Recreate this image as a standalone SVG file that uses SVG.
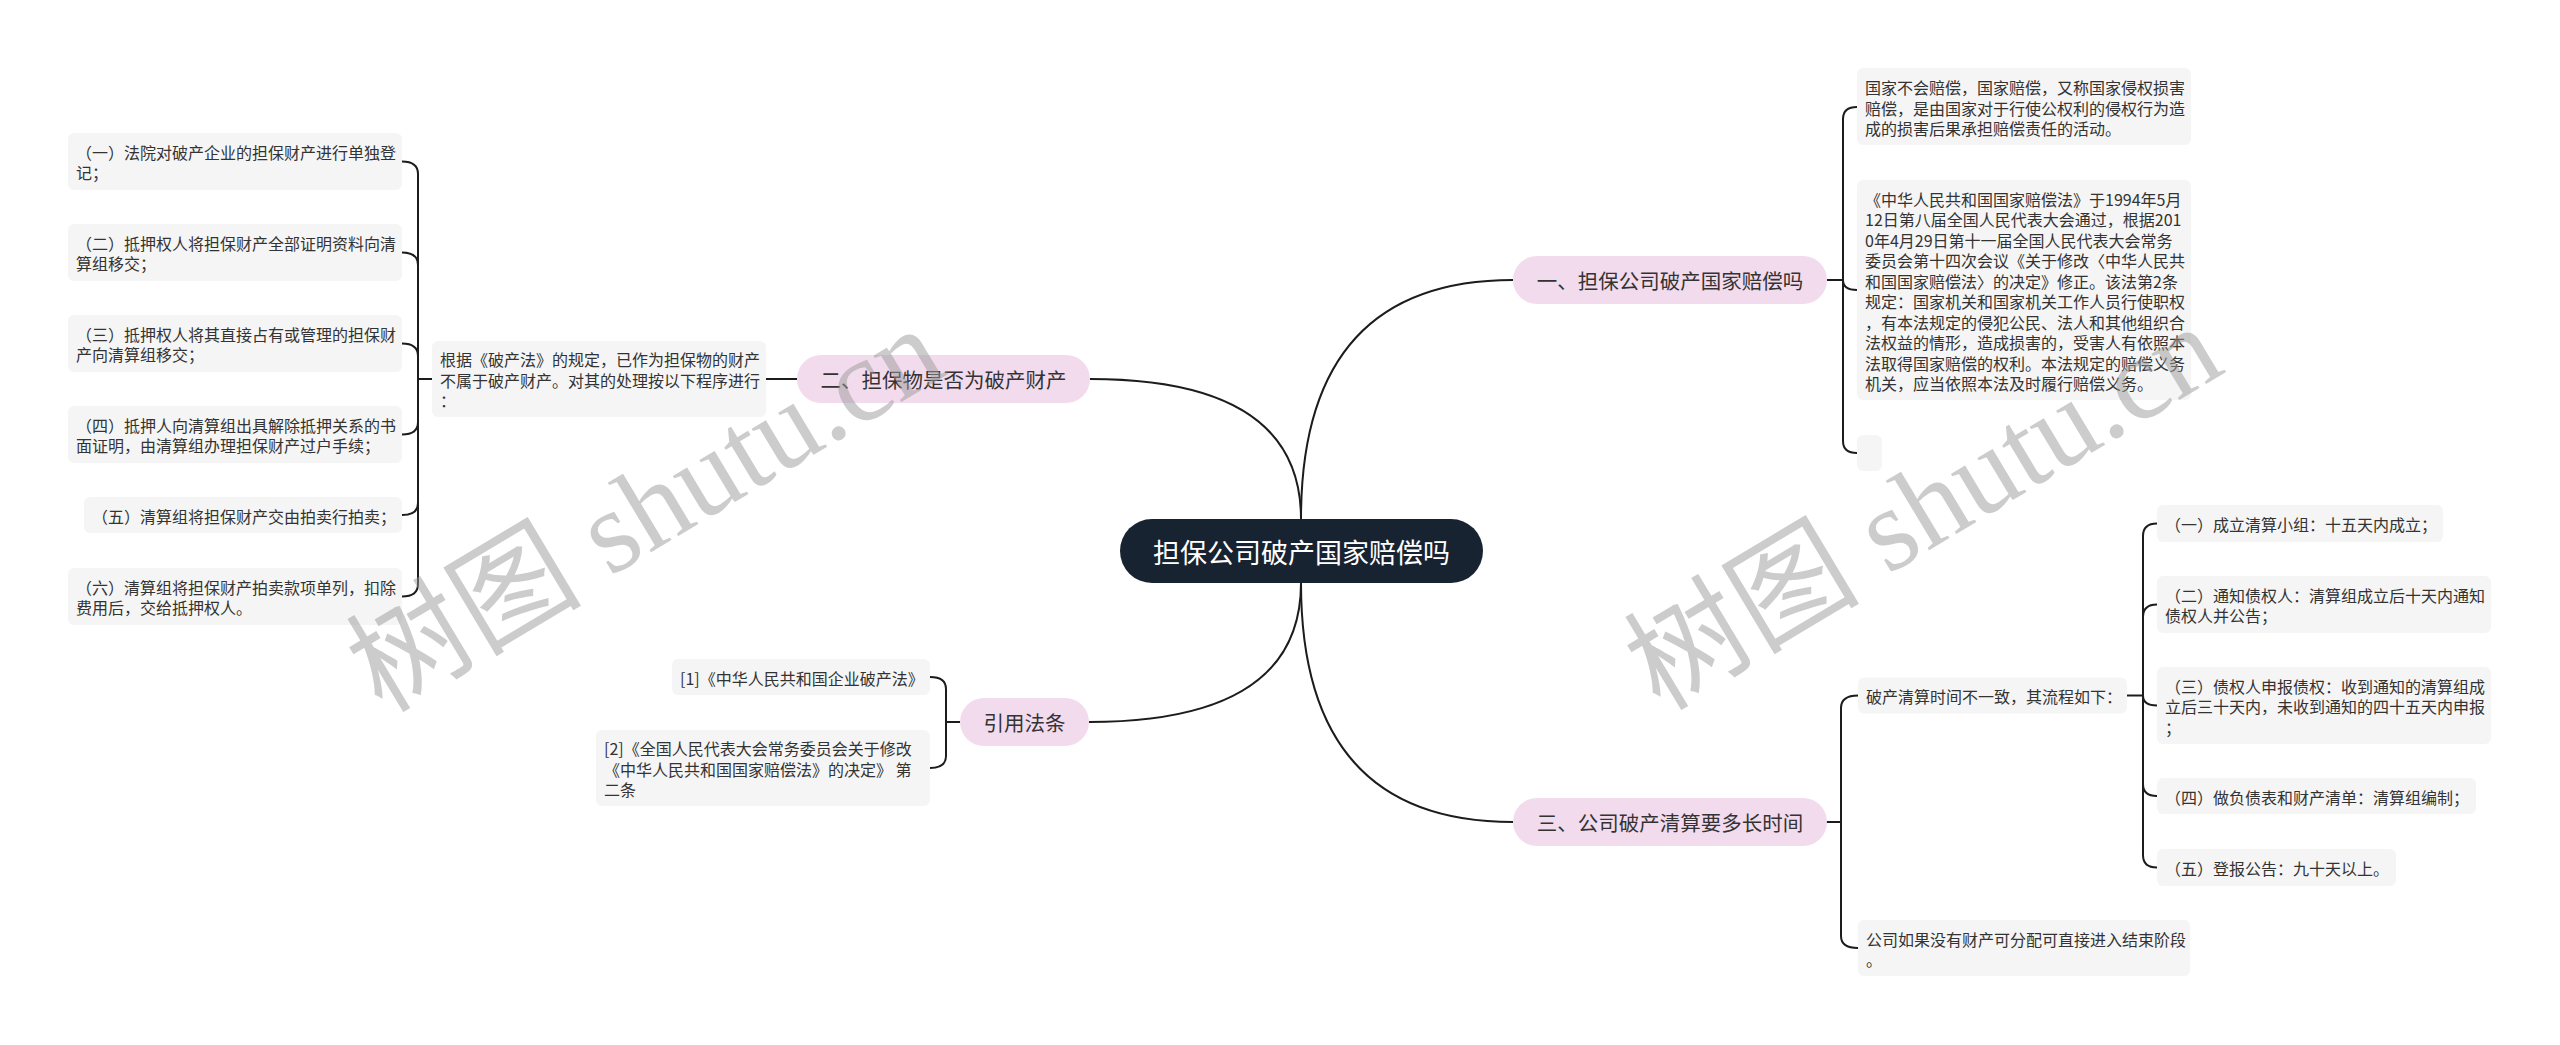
<svg xmlns="http://www.w3.org/2000/svg" width="2560" height="1045" viewBox="0 0 2560 1045">
<style>
.bg{fill:#ffffff}
.box{fill:#f5f5f5}
.pink{fill:#f3dbee}
.root{fill:#182332}
.t{font-family:"Noto Sans CJK SC","Liberation Sans",sans-serif;font-size:16px;fill:#333333;dominant-baseline:central}
.bt{font-family:"Noto Sans CJK SC","Liberation Sans",sans-serif;font-size:20.5px;fill:#333333;text-anchor:middle;dominant-baseline:central}
.rt{font-family:"Noto Sans CJK SC","Liberation Sans",sans-serif;font-size:27px;fill:#ffffff;text-anchor:middle;dominant-baseline:central}
.conn path{fill:none;stroke:#1c1c1c;stroke-width:2}
.wm{font-family:"Liberation Serif","Noto Sans CJK SC",serif;font-size:118px;fill:#9a9a9a;opacity:0.5}
</style>
<rect class="bg" x="0" y="0" width="2560" height="1045"/>

<g id="connectors" class="conn">
  <!-- root to main branches -->
  <path d="M1301,519 Q1301,280 1513,280"/>
  <path d="M1301,583 Q1301,822 1513,822"/>
  <path d="M1301,519 Q1301,379 1090,379"/>
  <path d="M1301,583 Q1301,722 1089,722"/>
  <!-- branch 1 children -->
  <path d="M1827,280 H1843"/>
  <path d="M1843,280 V119 Q1843,107 1857,107"/>
  <path d="M1843,280 Q1843,290 1857,290"/>
  <path d="M1843,280 V441 Q1843,453 1857,453"/>
  <!-- branch 3 children -->
  <path d="M1826,822 H1841"/>
  <path d="M1841,822 V708 Q1841,695.5 1858,695.5"/>
  <path d="M1841,822 V936 Q1841,948 1858,948"/>
  <!-- grandchildren of branch 3 -->
  <path d="M2127,695.5 H2143"/>
  <path d="M2143,695.5 V536 Q2143,523.5 2157,523.5"/>
  <path d="M2143,695.5 V617 Q2143,604.5 2157,604.5"/>
  <path d="M2143,695.5 Q2143,705.5 2157,705.5"/>
  <path d="M2143,695.5 V784 Q2143,796 2157,796"/>
  <path d="M2143,695.5 V855 Q2143,867.5 2157,867.5"/>
  <!-- branch 2 -->
  <path d="M797,379 H766"/>
  <path d="M432,379 H418"/>
  <path d="M418,379 V174 Q418,161.5 402,161.5"/>
  <path d="M418,379 V265 Q418,252.5 402,252.5"/>
  <path d="M418,379 V356 Q418,343.5 402,343.5"/>
  <path d="M418,379 V422 Q418,434.5 402,434.5"/>
  <path d="M418,379 V503 Q418,515 402,515"/>
  <path d="M418,379 V584 Q418,596.5 402,596.5"/>
  <!-- citations -->
  <path d="M960,722 H946"/>
  <path d="M946,722 V689 Q946,677 930,677"/>
  <path d="M946,722 V756 Q946,768 930,768"/>
</g>

<g id="root">
  <rect class="root" x="1120" y="519" width="363" height="64" rx="32"/>
  <text class="rt" x="1301.5" y="551">担保公司破产国家赔偿吗</text>
</g>

<g id="branch1">
  <rect class="pink" x="1513" y="256" width="314" height="48" rx="24"/>
  <text class="bt" x="1670" y="280">一、担保公司破产国家赔偿吗</text>
</g>
<g id="b1c1">
  <rect class="box" x="1857" y="68" width="334" height="77" rx="6"/>
  <text class="t" x="1865"><tspan x="1865" y="87">国家不会赔偿，国家赔偿，又称国家侵权损害</tspan><tspan x="1865" y="107.5">赔偿，是由国家对于行使公权利的侵权行为造</tspan><tspan x="1865" y="128">成的损害后果承担赔偿责任的活动。</tspan></text>
</g>
<g id="b1c2">
  <rect class="box" x="1857" y="180" width="334" height="220" rx="6"/>
  <text class="t" x="1865"><tspan x="1865" y="198.5">《中华人民共和国国家赔偿法》于1994年5月</tspan><tspan x="1865" y="219">12日第八届全国人民代表大会通过，根据201</tspan><tspan x="1865" y="239.5">0年4月29日第十一届全国人民代表大会常务</tspan><tspan x="1865" y="260">委员会第十四次会议《关于修改〈中华人民共</tspan><tspan x="1865" y="280.5">和国国家赔偿法〉的决定》修正。该法第2条</tspan><tspan x="1865" y="301">规定：国家机关和国家机关工作人员行使职权</tspan><tspan x="1865" y="321.5">，有本法规定的侵犯公民、法人和其他组织合</tspan><tspan x="1865" y="342">法权益的情形，造成损害的，受害人有依照本</tspan><tspan x="1865" y="362.5">法取得国家赔偿的权利。本法规定的赔偿义务</tspan><tspan x="1865" y="383">机关，应当依照本法及时履行赔偿义务。</tspan></text>
</g>
<g id="b1c3">
  <rect class="box" x="1857" y="435" width="25" height="36" rx="6"/>
</g>

<g id="branch3">
  <rect class="pink" x="1513" y="798" width="314" height="48" rx="24"/>
  <text class="bt" x="1670" y="822">三、公司破产清算要多长时间</text>
</g>
<g id="b3c1">
  <rect class="box" x="1858" y="677.5" width="269" height="36" rx="6"/>
  <text class="t" x="1866" y="696">破产清算时间不一致，其流程如下：</text>
</g>
<g id="b3c2">
  <rect class="box" x="1858" y="920" width="332" height="56" rx="6"/>
  <text class="t" x="1866"><tspan x="1866" y="938.5">公司如果没有财产可分配可直接进入结束阶段</tspan><tspan x="1866" y="959">。</tspan></text>
</g>
<g id="g1">
  <rect class="box" x="2157" y="505" width="286" height="37" rx="6"/>
  <text class="t" x="2165" y="524">（一）成立清算小组：十五天内成立；</text>
</g>
<g id="g2">
  <rect class="box" x="2157" y="576" width="334" height="57" rx="6"/>
  <text class="t" x="2165"><tspan x="2165" y="594.5">（二）通知债权人：清算组成立后十天内通知</tspan><tspan x="2165" y="615">债权人并公告；</tspan></text>
</g>
<g id="g3">
  <rect class="box" x="2157" y="667" width="334" height="77" rx="6"/>
  <text class="t" x="2165"><tspan x="2165" y="685.5">（三）债权人申报债权：收到通知的清算组成</tspan><tspan x="2165" y="706">立后三十天内，未收到通知的四十五天内申报</tspan><tspan x="2165" y="726.5">；</tspan></text>
</g>
<g id="g4">
  <rect class="box" x="2157" y="778" width="319" height="36" rx="6"/>
  <text class="t" x="2165" y="796.5">（四）做负债表和财产清单：清算组编制；</text>
</g>
<g id="g5">
  <rect class="box" x="2157" y="849" width="239" height="37" rx="6"/>
  <text class="t" x="2165" y="868">（五）登报公告：九十天以上。</text>
</g>

<g id="branch2">
  <rect class="pink" x="797" y="355" width="293" height="48" rx="24"/>
  <text class="bt" x="943.5" y="379">二、担保物是否为破产财产</text>
</g>
<g id="b2c1">
  <rect class="box" x="432" y="341" width="334" height="76" rx="6"/>
  <text class="t" x="440"><tspan x="440" y="359">根据《破产法》的规定，已作为担保物的财产</tspan><tspan x="440" y="379.5">不属于破产财产。对其的处理按以下程序进行</tspan><tspan x="440" y="400">：</tspan></text>
</g>
<g id="l1">
  <rect class="box" x="68" y="133" width="334" height="57" rx="6"/>
  <text class="t" x="76"><tspan x="76" y="151.5">（一）法院对破产企业的担保财产进行单独登</tspan><tspan x="76" y="172">记；</tspan></text>
</g>
<g id="l2">
  <rect class="box" x="68" y="224" width="334" height="57" rx="6"/>
  <text class="t" x="76"><tspan x="76" y="242.5">（二）抵押权人将担保财产全部证明资料向清</tspan><tspan x="76" y="263">算组移交；</tspan></text>
</g>
<g id="l3">
  <rect class="box" x="68" y="315" width="334" height="57" rx="6"/>
  <text class="t" x="76"><tspan x="76" y="333.5">（三）抵押权人将其直接占有或管理的担保财</tspan><tspan x="76" y="354">产向清算组移交；</tspan></text>
</g>
<g id="l4">
  <rect class="box" x="68" y="406" width="334" height="57" rx="6"/>
  <text class="t" x="76"><tspan x="76" y="424.5">（四）抵押人向清算组出具解除抵押关系的书</tspan><tspan x="76" y="445">面证明，由清算组办理担保财产过户手续；</tspan></text>
</g>
<g id="l5">
  <rect class="box" x="84" y="497" width="318" height="36" rx="6"/>
  <text class="t" x="92" y="515.5">（五）清算组将担保财产交由拍卖行拍卖；</text>
</g>
<g id="l6">
  <rect class="box" x="68" y="568" width="334" height="57" rx="6"/>
  <text class="t" x="76"><tspan x="76" y="586.5">（六）清算组将担保财产拍卖款项单列，扣除</tspan><tspan x="76" y="607">费用后，交给抵押权人。</tspan></text>
</g>

<g id="branch4">
  <rect class="pink" x="960" y="698" width="129" height="48" rx="24"/>
  <text class="bt" x="1024.5" y="722">引用法条</text>
</g>
<g id="c1">
  <rect class="box" x="672" y="659" width="258" height="36" rx="6"/>
  <text class="t" x="680" y="677.5">[1]《中华人民共和国企业破产法》</text>
</g>
<g id="c2">
  <rect class="box" x="596" y="730" width="334" height="76" rx="6"/>
  <text class="t" x="604"><tspan x="604" y="748">[2]《全国人民代表大会常务委员会关于修改</tspan><tspan x="604" y="768.5">《中华人民共和国国家赔偿法》的决定》 第</tspan><tspan x="604" y="789">二条</tspan></text>
</g>

<g id="watermarks">
  <text class="wm" transform="translate(382,714) rotate(-31)">树图 shutu.cn</text>
  <text class="wm" transform="translate(1660,712) rotate(-31)">树图 shutu.cn</text>
</g>
</svg>
